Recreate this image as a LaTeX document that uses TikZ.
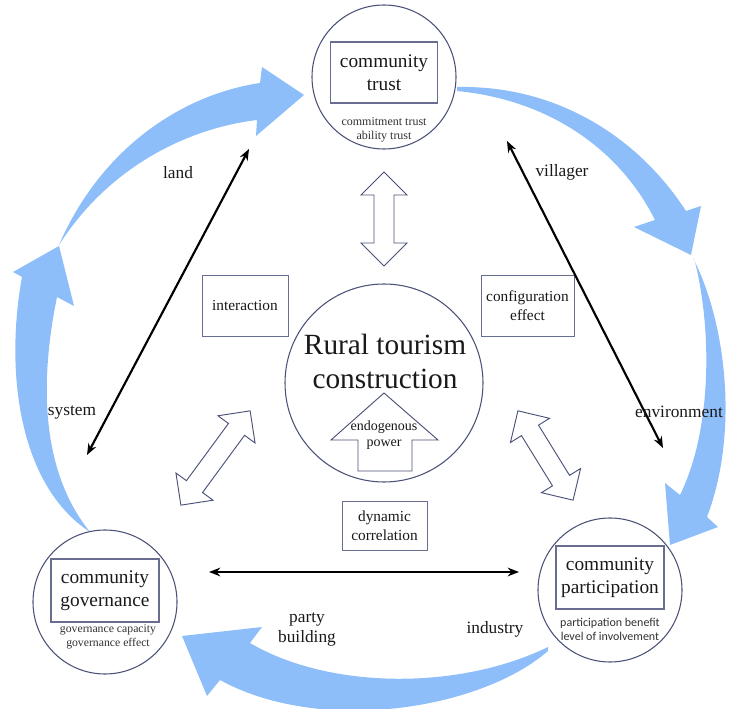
\documentclass[tikz,border=0pt]{standalone}
\usepackage{fontspec}
\setmainfont{Liberation Serif}
\newfontfamily\calibfont{Carlito}
\usetikzlibrary{arrows.meta}
\definecolor{bluearr}{RGB}{141,190,250}
\definecolor{circc}{RGB}{75,82,120}
\definecolor{boxc}{RGB}{105,110,145}
\definecolor{txtc}{RGB}{25,25,25}
\definecolor{smallc}{RGB}{50,50,50}
\newcommand{\hdarrow}[3]{%
  \begin{scope}[shift={#1},rotate=#2]
    \draw[hollowarrow] (-#3/2,0) -- ++(23,23) -- ++(0,-13) -- (#3/2-23,10) -- ++(0,13) -- (#3/2,0)
      -- ++(-23,-23) -- ++(0,13) -- (-#3/2+23,-10) -- ++(0,-13) -- cycle;
  \end{scope}}
\begin{document}
\begin{tikzpicture}[x=0.75pt,y=-0.75pt,
  bluefill/.style={fill=bluearr,draw=none},
  ringnode/.style={circle,draw=circc,line width=0.8pt,fill=white,inner sep=0pt,minimum size=108pt},
  corebox/.style={rectangle,draw=boxc,line width=0.8pt,fill=white,inner sep=0pt,align=center,text=txtc,font=\fontsize{14.5}{17}\selectfont},
  labelbox/.style={rectangle,draw=boxc,line width=0.7pt,fill=white,inner sep=0pt,align=center,text=txtc,font=\fontsize{11.5}{14}\selectfont},
  smalltxt/.style={align=center,text=smallc,inner sep=0pt,font=\fontsize{9}{10.5}\selectfont},
  lbl/.style={align=center,text=txtc,inner sep=0pt,font=\fontsize{13}{15}\selectfont},
  hollowarrow/.style={draw=circc,line width=0.7pt,fill=white,line join=miter},
  blackarr/.style={black,line width=1.6pt,{Stealth[length=8.5pt,width=6.5pt]}-{Stealth[length=8.5pt,width=6.5pt]}}
]
\useasboundingbox (0,0) rectangle (729,709);

% blue ring arrows
\fill[bluefill] (90,532) .. controls (18,485) and (5,370) .. (22,277) -- (13,272) -- (59,246) -- (74,306) -- (57,297)
  .. controls (40,380) and (40,470) .. (90,532) -- cycle;
\fill[bluefill] (59,245) .. controls (100,150) and (180,95) .. (260,83) -- (262,67) -- (304,95) -- (256,136) -- (257,120)
  .. controls (190,128) and (110,165) .. (59,245) -- cycle;
\fill[bluefill] (457,87) .. controls (560,85) and (640,140) .. (686,211) -- (701,206) -- (691,255) -- (634,227) -- (655,220)
  .. controls (620,150) and (550,100) .. (457,91) -- cycle;
\fill[bluefill] (693,258) .. controls (725,320) and (740,430) .. (707,517) -- (718,527) -- (670,545) -- (665,483) -- (680,495)
  .. controls (712,430) and (712,330) .. (695,262) -- cycle;
\fill[bluefill] (548,647) .. controls (460,690) and (330,690) .. (250,643) -- (262,627) -- (182,636) -- (207,696) -- (220,680)
  .. controls (320,735) and (480,710) .. (548,651) -- cycle;

% circles
\node[ringnode] (trust) at (384,77) {};
\node[ringnode] (gov) at (105,602) {};
\node[ringnode] (part) at (610,590) {};
\node[ringnode,minimum size=148.5pt] (core) at (384,383) {};

% boxes in circles
\node[corebox,minimum width=80.25pt,minimum height=45.75pt] (trustbox) at (384,72.5) {community\\trust};
\node[smalltxt] (trusttxt) at (384,130) {commitment trust\\ability trust};
\node[corebox,minimum width=81pt,minimum height=47.25pt] (govbox) at (105,590.5) {community\\governance};
\node[smalltxt,font=\fontsize{8.8}{10.5}\selectfont] (govtxt) at (108,637) {governance capacity\\governance effect};
\node[corebox,minimum width=81pt,minimum height=47.25pt] (partbox) at (610,577.5) {community\\participation};
\node[smalltxt,font=\calibfont\fontsize{9}{10.5}\selectfont] (parttxt) at (610,629) {participation benefit\\level of involvement};

% central text
\node[align=center,text=txtc,inner sep=0pt,font=\fontsize{22}{25.5}\selectfont] (coretxt) at (385,361) {Rural tourism\\construction};
\draw[hollowarrow] (384,393) -- (438,440) -- (412,440) -- (412,471) -- (358,471) -- (358,440) -- (331,440) -- cycle;
\node[align=center,text=txtc,inner sep=0pt,font=\fontsize{10.5}{12}\selectfont] (endo) at (384,435) {endogenous\\power};

% hollow double arrows
\hdarrow{(384,219)}{90}{94}
\hdarrow{(215.5,458)}{53.7}{117}
\hdarrow{(545.5,455.5)}{-58.3}{105}

% label boxes
\node[labelbox,minimum width=64.5pt,minimum height=45.75pt] (inter) at (245,305.5) {interaction};
\node[labelbox,minimum width=69.75pt,minimum height=45.75pt] (config) at (527.5,305.5) {configuration\\effect};
\node[labelbox,minimum width=63.75pt,minimum height=36.75pt] (dyn) at (384.5,525.5) {dynamic\\correlation};

% black double arrows
\coordinate (la) at (87,455);
\coordinate (lb) at (249,149);
\coordinate (ra) at (507,141);
\coordinate (rb) at (663,448);
\coordinate (ha) at (209,572);
\coordinate (hb) at (519,572);
\draw[blackarr] (la) -- (lb);
\draw[blackarr] (ra) -- (rb);
\draw[blackarr] (ha) -- (hb);

% labels
\node[lbl] (land) at (178,173) {land};
\node[lbl] (villager) at (562,172) {villager};
\node[lbl] (system) at (72,412) {system};
\node[lbl] (environment) at (679,412) {environment};
\node[lbl] (industry) at (495,629) {industry};
\node[lbl] (party) at (307,629) {party\\building};
\end{tikzpicture}
\end{document}
